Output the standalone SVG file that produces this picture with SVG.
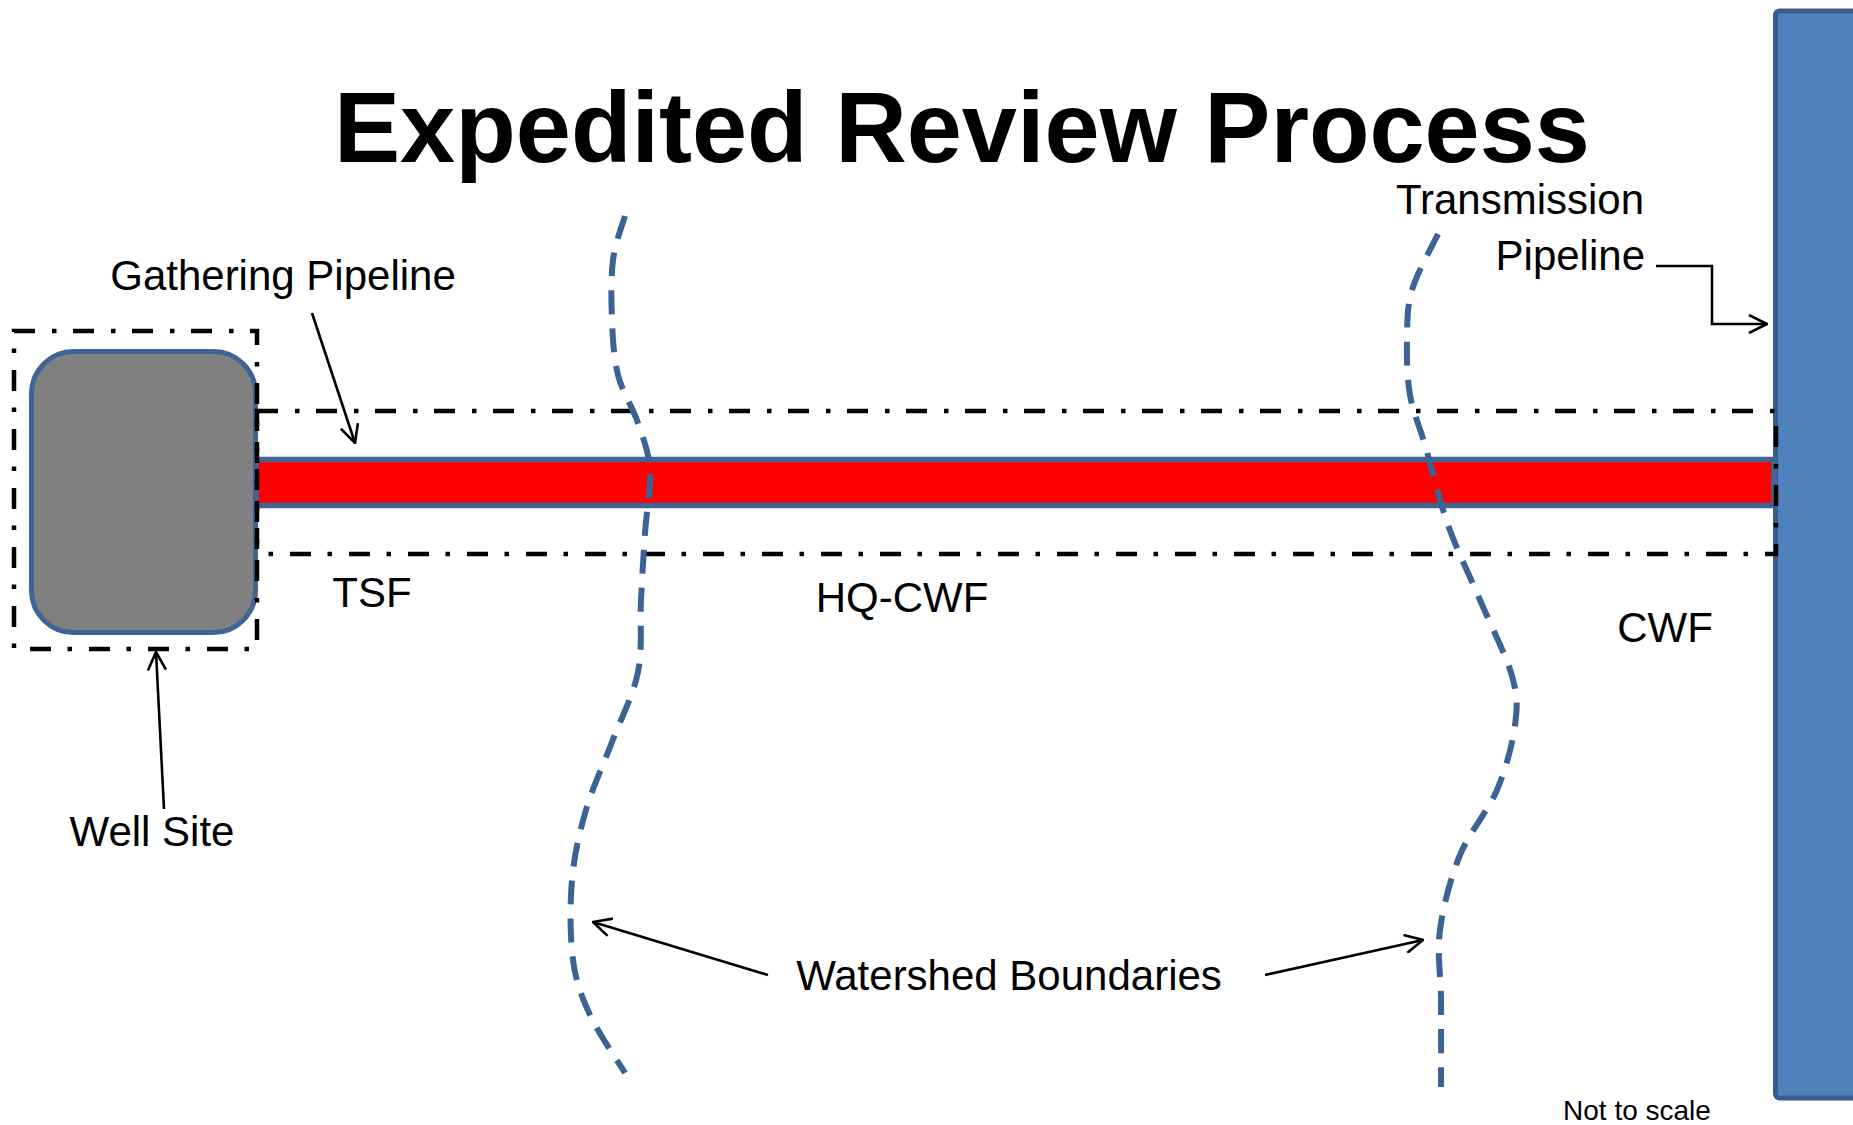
<svg xmlns="http://www.w3.org/2000/svg" width="1853" height="1125" viewBox="0 0 1853 1125">
<style>
.lbl{font-family:"Liberation Sans",Arial,sans-serif;font-size:42px;fill:#000}
.small{font-size:28px}
.dd{fill:none;stroke:#000;stroke-width:4.5;stroke-dasharray:21 17 4.5 16.5}
.ws{fill:none;stroke:#3B6494;stroke-width:6;stroke-dasharray:24 14}
.arr{fill:none;stroke:#000;stroke-width:2.6;marker-end:url(#open)}
</style>
<defs>
<marker id="open" viewBox="0 0 20 20" refX="19" refY="10" markerWidth="20" markerHeight="20" markerUnits="userSpaceOnUse" orient="auto">
<path d="M1,1 L19,10 L1,19" fill="none" stroke="#000" stroke-width="2.6"/>
</marker>
</defs>
<rect width="1853" height="1125" fill="#fff"/>

<text id="title" x="962" y="162" text-anchor="middle" font-family="'Liberation Sans',Arial,sans-serif" font-weight="bold" font-size="100" textLength="1256" lengthAdjust="spacingAndGlyphs">Expedited Review Process</text>

<g id="transmission-pipeline">
<rect x="1775.5" y="11" width="95" height="1087" rx="4" fill="#4F81BD" stroke="#385D8A" stroke-width="5"/>
</g>

<g id="well-site">
<rect x="31.5" y="351.5" width="224" height="281" rx="42" fill="#808080" stroke="#3F6594" stroke-width="5"/>
</g>

<g id="gathering-pipeline">
<rect x="256" y="459.5" width="1518" height="46" fill="#FF0000" stroke="#3F6594" stroke-width="5.5"/>
</g>

<g id="well-site-boundary">
<rect class="dd" x="14" y="331" width="243" height="318"/>
</g>

<g id="corridor">
<rect class="dd" x="257" y="411" width="1519" height="143"/>
</g>

<g id="watershed-left">
<path class="ws" d="M625,216 C623,223 615.2,242.7 613,260 C610.8,277.3 611.2,300.8 612,320 C612.8,339.2 613.7,357.8 618,375 C622.3,392.2 632.7,407.2 638,423 C643.3,438.8 648.8,451.7 650,470 C651.2,488.3 646.5,511.3 645,533 C643.5,554.7 642.2,576.8 641,600 C639.8,623.2 642.8,648.3 638,672 C633.2,695.7 620.7,719 612,742 C603.3,765 592.7,787 586,810 C579.3,833 574.2,855 572,880 C569.8,905 570,937.5 573,960 C576,982.5 581.3,996.2 590,1015 C598.7,1033.8 619.2,1063.3 625,1073"/>
</g>
<g id="watershed-right">
<path class="ws" d="M1438,234 C1433.7,243.3 1417.2,272.3 1412,290 C1406.8,307.7 1407.3,322.5 1407,340 C1406.7,357.5 1407,377.5 1410,395 C1413,412.5 1418.7,423.3 1425,445 C1431.3,466.7 1438.8,499.2 1448,525 C1457.2,550.8 1469.3,574.8 1480,600 C1490.7,625.2 1506.2,655.2 1512,676 C1517.8,696.8 1517.5,706 1515,725 C1512.5,744 1506.2,768.3 1497,790 C1487.8,811.7 1469.5,831.7 1460,855 C1450.5,878.3 1443.2,905.8 1440,930 C1436.8,954.2 1440.8,973.8 1441,1000 C1441.2,1026.2 1441,1072.5 1441,1087"/>
</g>

<g id="connectors">
<path class="arr" d="M312,313 L355,443"/>
<path class="arr" d="M164,809 L156,652"/>
<path class="arr" d="M1656,266 L1712,266 L1712,324 L1767,324"/>
<path class="arr" d="M768,975 L593,922"/>
<path class="arr" d="M1265,975 L1423,940"/>
</g>

<g id="labels">
<text class="lbl" x="283" y="290" text-anchor="middle">Gathering Pipeline</text>
<text class="lbl" x="1520" y="214" text-anchor="middle">Transmission</text>
<text class="lbl" x="1645" y="270" text-anchor="end">Pipeline</text>
<text class="lbl" x="152" y="846" text-anchor="middle">Well Site</text>
<text class="lbl" x="372" y="607" text-anchor="middle">TSF</text>
<text class="lbl" x="902" y="612" text-anchor="middle">HQ-CWF</text>
<text class="lbl" x="1665" y="642" text-anchor="middle">CWF</text>
<text class="lbl" x="1009" y="990" text-anchor="middle">Watershed Boundaries</text>
<text class="lbl small" x="1637" y="1120" text-anchor="middle">Not to scale</text>
</g>
</svg>
